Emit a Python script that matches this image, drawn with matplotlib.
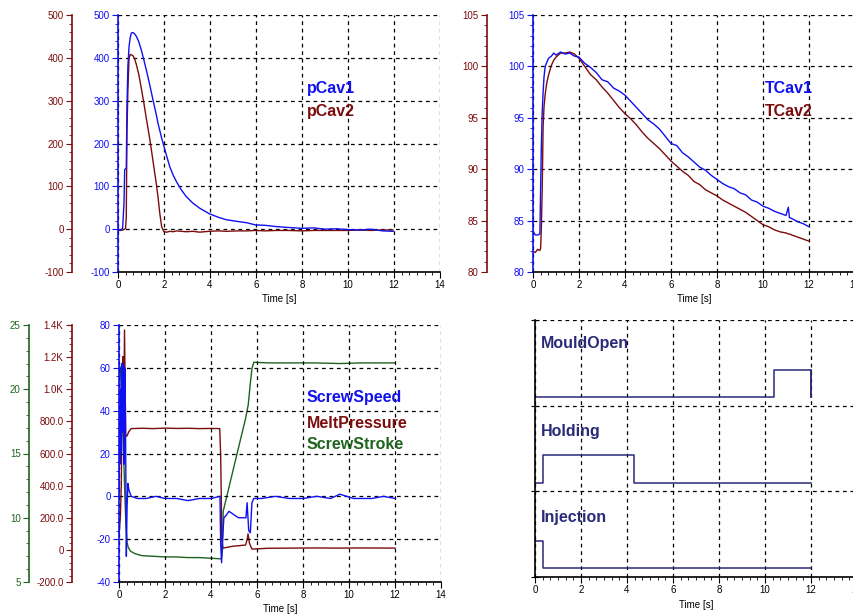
import matplotlib
matplotlib.use("Agg")
import matplotlib.pyplot as plt
from matplotlib.ticker import MultipleLocator, AutoMinorLocator, FuncFormatter, NullFormatter

plt.rcParams['font.family'] = ['Liberation Sans', 'DejaVu Sans']
plt.rcParams['axes.unicode_minus'] = False

# ---- cavity pressure (top left) ----
pcav_t = [0, 0.1, 0.2, 0.26, 0.29, 0.33, 0.36, 0.39, 0.43, 0.48, 0.53, 0.58, 0.65, 0.72, 0.8, 0.9,
          1.01, 1.12, 1.23, 1.38, 1.52, 1.67, 1.74, 1.81, 1.9, 2.0, 2.12, 2.25, 2.4, 2.54, 2.75, 2.97,
          3.25, 3.55, 3.97, 4.35, 4.71, 5.2, 5.6, 5.97, 6.4, 6.88, 7.4, 7.98, 8.5, 9.0, 9.5, 10.0,
          10.5, 11.0, 11.5, 11.96]
pcav1 = [0, -2, 1, 60, 139, 141, 142, 286, 380, 426, 447, 458, 459, 456, 450, 438,
         419, 396, 372, 337, 302, 266, 247, 232, 212, 193, 170, 146, 126, 111, 92, 76,
         61, 49, 36, 28, 22, 18, 15, 10, 9, 6, 4, 2, 3, 0, 1, -1, -2, 0, -4, -5]
pcav2 = [-2, -3, -2, -1, 0, 2, 30, 230, 325, 399, 408, 407, 405, 398, 384, 362,
         330, 296, 259, 211, 160, 104, 75, 40, 5, -6, -7, -5, -6, -4, -5, -6,
         -5, -7, -5, -4, -5, -4, -4, -3, -4, -3, -3, -4, -3, -3, -3, -3, -2, -3, -2, -2]

# ---- cavity temperature (top right) ----
tcav_t = [0, 0.1, 0.2, 0.3, 0.33, 0.36, 0.4, 0.44, 0.48, 0.53, 0.6, 0.68, 0.8, 0.9, 1.0, 1.2,
          1.4, 1.6, 1.8, 2.0, 2.25, 2.5, 2.75, 3.0, 3.25, 3.5, 3.75, 4.0, 4.25, 4.5, 4.75,
          5.0, 5.25, 5.5, 5.75, 6.0, 6.25, 6.5, 6.75, 7.0, 7.25, 7.5, 7.75, 8.0, 8.25, 8.5,
          8.75, 9.0, 9.25, 9.5, 9.75, 10.0, 10.25, 10.5, 10.75, 11.0, 11.1, 11.15, 11.25,
          11.5, 11.75, 12.0]
tcav1 = [84.0, 83.6, 83.6, 83.7, 88.0, 91.9, 95.5, 97.5, 99.0, 100.0, 100.4, 100.8, 101.0,
         101.3, 101.1, 101.4, 101.2, 101.3, 101.0, 100.9, 100.3, 99.9, 99.4, 98.7, 98.5,
         97.9, 97.6, 97.2, 96.6, 96.0, 95.4, 94.8, 94.4, 93.9, 93.2, 92.5, 92.3, 91.6,
         91.2, 90.7, 90.2, 89.9, 89.4, 89.0, 88.6, 88.3, 88.1, 87.7, 87.5, 87.0, 86.8,
         86.4, 86.2, 85.9, 85.7, 85.5, 86.3, 85.3, 85.2, 84.9, 84.7, 84.4]
tcav2 = [82.0, 81.9, 82.2, 82.1, 82.3, 84.0, 88.0, 94.2, 96.1, 97.3, 98.4, 99.2, 100.1,
         100.6, 100.9, 101.3, 101.3, 101.4, 101.2, 100.8, 100.0, 99.2, 98.7, 98.0, 97.4,
         96.7, 96.0, 95.4, 94.9, 94.3, 93.6, 93.0, 92.5, 92.0, 91.4, 90.8, 90.3, 89.8,
         89.4, 88.8, 88.5, 88.0, 87.7, 87.4, 87.0, 86.7, 86.4, 86.1, 85.8, 85.4, 85.0,
         84.6, 84.4, 84.1, 83.9, 83.8, 83.7, 83.7, 83.6, 83.4, 83.2, 83.0]

# ---- screw data (bottom left) ----
speed_t = [0, 0.02, 0.04, 0.06, 0.08, 0.1, 0.13, 0.16, 0.19, 0.22, 0.25, 0.28, 0.32, 0.35,
           0.39, 0.43, 0.53, 0.8, 1.2, 1.6, 2.0, 2.5, 3.0, 3.5, 4.0, 4.39, 4.42, 4.46, 4.5,
           4.56, 4.65, 4.78, 4.92, 5.05, 5.2, 5.4, 5.52, 5.57, 5.64, 5.71, 5.78, 5.86, 6.2,
           6.8, 7.4, 8.0, 8.6, 9.2, 9.6, 10.2, 11.0, 11.5, 12.0]
speed = [0, 38, 15, 50, 20, 60, 62, 30, 62, 15, 60, 40, -28, -5, 6, 3, 0, -1, -1, 0, -1, -1,
         -2, -1, -1, 0, -22, -31, -20, -10, -9, -7, -8, -9, -10, -10, -10, -3, -16, -17, -3,
         -1, -1, 0, -1, -1, 0, -1, 1, -1, -1, 0, -1]
melt_t = [0, 0.06, 0.1, 0.14, 0.17, 0.2, 0.24, 0.29, 0.35, 0.43, 0.53, 1.0, 1.5, 2.0, 2.5,
          3.0, 3.5, 4.0, 4.38, 4.42, 4.45, 4.47, 4.52, 4.7, 4.92, 5.2, 5.5, 5.57, 5.61, 5.67,
          5.78, 6.5, 7.5, 8.5, 9.5, 10.5, 12.0]
melt = [84, 208, 405, 996, 1203, 706, 1369, 706, 710, 737, 755, 757, 755, 758, 756, 757, 755,
        756, 755, 592, 300, 63, 11, 16, 22, 26, 30, 63, 100, 42, 5, 10, 11, 12, 11, 12, 11]
stroke_t = [0, 0.04, 0.08, 0.12, 0.16, 0.2, 0.25, 0.3, 0.35, 0.4, 0.5, 0.7, 1.0, 1.5, 2.0,
            2.5, 3.0, 3.5, 4.0, 4.45, 4.5, 4.53, 5.0, 5.5, 5.62, 5.7, 5.78, 5.86, 6.5, 7.5,
            8.5, 9.6, 10.5, 12.0]
stroke = [20.5, 21.8, 21.0, 19.5, 17.5, 15.0, 12.0, 9.5, 8.1, 7.7, 7.4, 7.2, 7.05, 7.0, 6.95,
          6.95, 6.9, 6.9, 6.85, 6.8, 7.5, 10.5, 14.0, 17.7, 18.8, 20.3, 21.6, 22.1, 22.05,
          22.05, 22.05, 22.0, 22.05, 22.05]

# ---- digital signals (bottom right) ----
sig_t = [0, 0.33, 4.32, 10.39, 12.0]
injection = [1, 0, 0, 0, 0]
holding = [0, 1, 0, 0, 0]
mould_open = [0, 0, 0, 1, 0]

BLUE = '#1010f0'
RED = '#7a0c0c'
GREEN = '#1e641e'
NAVY = '#2a2a78'


def style_axes(ax, color):
    ax.set_xlim(0, 14)
    ax.spines['top'].set_visible(False)
    ax.spines['right'].set_visible(False)
    ax.spines['left'].set_color(color)
    ax.spines['left'].set_linewidth(1.2)
    ax.spines['bottom'].set_linewidth(1.2)
    ax.xaxis.set_major_locator(MultipleLocator(2))
    ax.xaxis.set_minor_locator(AutoMinorLocator(6))
    ax.yaxis.set_minor_locator(AutoMinorLocator(5))
    ax.tick_params(axis='x', which='major', length=4, labelsize=7, pad=2)
    ax.tick_params(axis='x', which='minor', length=2.5)
    ax.tick_params(axis='y', which='both', colors=color, labelsize=7, pad=2)
    ax.tick_params(axis='y', which='major', length=4)
    ax.tick_params(axis='y', which='minor', length=2.5)
    ax.grid(True, which='major', color='black', linestyle=(0, (3, 3)), linewidth=0.9)
    ax.set_xlabel('Time [s]', fontsize=7, labelpad=3)


def extra_axis(ax, color, offset_px, ylim):
    tw = ax.twinx()
    for s in ['top', 'right', 'bottom']:
        tw.spines[s].set_visible(False)
    tw.spines['left'].set_visible(True)
    tw.spines['left'].set_position(('outward', offset_px * 0.72))
    tw.spines['left'].set_color(color)
    tw.spines['left'].set_linewidth(1.2)
    tw.yaxis.set_ticks_position('left')
    tw.yaxis.set_label_position('left')
    tw.set_ylim(*ylim)
    tw.yaxis.set_minor_locator(AutoMinorLocator(5))
    tw.tick_params(axis='y', which='both', colors=color, labelsize=7, pad=2)
    tw.tick_params(axis='y', which='major', length=4)
    tw.tick_params(axis='y', which='minor', length=2.5)
    return tw


fig = plt.figure(figsize=(8.54, 6.14), dpi=100)
W = 322 / 854
H = 257 / 614

# Top left: cavity pressure
ax1 = fig.add_axes([118 / 854, 1 - 272 / 614, W, H])
style_axes(ax1, BLUE)
ax1.set_ylim(-100, 500)
ax1.yaxis.set_major_locator(MultipleLocator(100))
ax1r = extra_axis(ax1, RED, 46, (-100, 500))
ax1r.yaxis.set_major_locator(MultipleLocator(100))
ax1.plot(pcav_t, pcav2, color=RED, linewidth=1.0)
ax1.plot(pcav_t, pcav1, color=BLUE, linewidth=1.0)
ax1.text(8.2, 329, 'pCav1', color=BLUE, fontsize=11.5, fontweight='bold', va='center')
ax1.text(8.2, 274, 'pCav2', color=RED, fontsize=11.5, fontweight='bold', va='center')

# Top right: cavity temperature
ax2 = fig.add_axes([533 / 854, 1 - 272 / 614, W, H])
style_axes(ax2, BLUE)
ax2.set_ylim(80, 105)
ax2.yaxis.set_major_locator(MultipleLocator(5))
ax2r = extra_axis(ax2, RED, 46, (80, 105))
ax2r.yaxis.set_major_locator(MultipleLocator(5))
ax2.plot(tcav_t, tcav2, color=RED, linewidth=1.0)
ax2.plot(tcav_t, tcav1, color=BLUE, linewidth=1.0)
ax2.text(10.09, 97.85, 'TCav1', color=BLUE, fontsize=11.5, fontweight='bold', va='center')
ax2.text(10.09, 95.6, 'TCav2', color=RED, fontsize=11.5, fontweight='bold', va='center')

# Bottom left: screw speed, melt pressure, screw stroke
ax3 = fig.add_axes([119 / 854, 1 - 582 / 614, W, H])
style_axes(ax3, BLUE)
ax3.set_ylim(-40, 80)
ax3.yaxis.set_major_locator(MultipleLocator(20))
ax3r = extra_axis(ax3, RED, 47, (-200, 1400))
ax3r.yaxis.set_major_locator(MultipleLocator(200))


def kfmt(v, pos):
    if abs(v) < 1e-9:
        return '0'
    if abs(v) >= 1000:
        return f'{v / 1000:.1f}K'
    return f'{v:.1f}'


ax3r.yaxis.set_major_formatter(FuncFormatter(kfmt))
ax3g = extra_axis(ax3, GREEN, 90, (5, 25))
ax3g.yaxis.set_major_locator(MultipleLocator(5))
# keep the speed axis on top so the blue trace sits above the others
ax3.set_zorder(ax3g.get_zorder() + 1)
ax3.patch.set_visible(False)
ax3g.plot(stroke_t, stroke, color=GREEN, linewidth=1.0)
ax3r.plot(melt_t, melt, color=RED, linewidth=1.0)
ax3.plot(speed_t, speed, color=BLUE, linewidth=1.0)
ax3.text(8.17, 46, 'ScrewSpeed', color=BLUE, fontsize=11.5, fontweight='bold', va='center')
ax3.text(8.17, 34.2, 'MeltPressure', color=RED, fontsize=11.5, fontweight='bold', va='center')
ax3.text(8.17, 24.4, 'ScrewStroke', color=GREEN, fontsize=11.5, fontweight='bold', va='center')

# Bottom right: digital signals
ax4 = fig.add_axes([535 / 854, 1 - 577 / 614, W, H])
style_axes(ax4, 'black')
ax4.set_ylim(0, 3)
ax4.yaxis.set_major_locator(MultipleLocator(1))
ax4.yaxis.set_minor_locator(MultipleLocator(1))
ax4.yaxis.set_major_formatter(NullFormatter())
ax4.tick_params(axis='y', which='major', direction='inout', length=6)
lo, hi = 0.1, 0.42
for band, sig in enumerate([injection, holding, mould_open]):
    ax4.step(sig_t, [band + (hi if s else lo) for s in sig], where='post', color=NAVY, linewidth=1.1)
    if sig[-2]:
        ax4.plot([12, 12], [band + hi, band + lo], color=NAVY, linewidth=1.1)
ax4.text(0.25, 2.72, 'MouldOpen', color=NAVY, fontsize=11.5, fontweight='bold', va='center')
ax4.text(0.25, 1.7, 'Holding', color=NAVY, fontsize=11.5, fontweight='bold', va='center')
ax4.text(0.25, 0.7, 'Injection', color=NAVY, fontsize=11.5, fontweight='bold', va='center')

fig.savefig('out.png', dpi=100)
